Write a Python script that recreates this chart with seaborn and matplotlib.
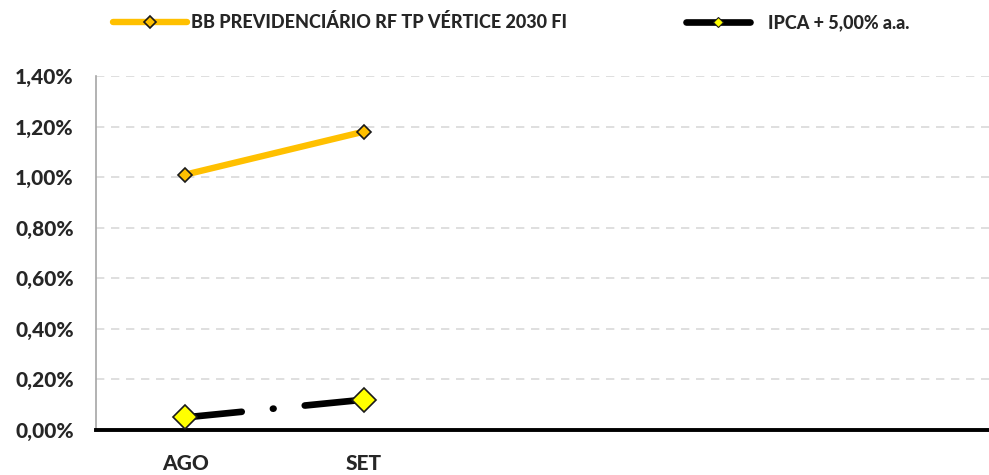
import pandas as pd
import numpy as np
import matplotlib
matplotlib.use("Agg")
import matplotlib.pyplot as plt
from matplotlib.lines import Line2D
import seaborn as sns

# dados
meses = ["AGO", "SET", "OUT", "NOV", "DEZ"]
rotulos_x = ["AGO", "SET", "", "", ""]
bb_vertice = [1.01, 1.18, np.nan, np.nan, np.nan]
ipca_meta = [0.05, 0.12, np.nan, np.nan, np.nan]
rotulos_y = ["0,00%", "0,20%", "0,40%", "0,60%", "0,80%", "1,00%", "1,20%", "1,40%"]
nome_bb = "BB PREVIDENCIÁRIO RF TP VÉRTICE 2030 FI"
nome_ipca = "IPCA + 5,00% a.a."

df = pd.DataFrame({"pos": range(len(meses)), "mes": meses,
                   "bb": bb_vertice, "ipca": ipca_meta})

sns.set_style("white")
plt.rcParams["font.family"] = ["Lato", "DejaVu Sans"]
peso = 900

fig = plt.figure(figsize=(9.89, 4.75), dpi=100)
ax = fig.add_axes([0.0971, 0.0947, 0.903, 0.7453])

sns.lineplot(data=df, x="pos", y="bb", ax=ax, color="#FFC000", linewidth=4.6,
             marker="D", markersize=7, markerfacecolor="#FFC000",
             markeredgecolor="#1a1a1a", markeredgewidth=1.2, zorder=3)
sns.lineplot(data=df, x="pos", y="ipca", ax=ax, color="black", linewidth=4.8,
             linestyle=(0, (8.5, 4.7, 0.1, 4.7)), dash_capstyle="round",
             marker="D", markersize=12, markerfacecolor="#FFFF00",
             markeredgecolor="#1a1a1a", markeredgewidth=1.2, zorder=3)

ax.set_xlim(-0.5, 4.5)
ax.set_ylim(0, 1.40)
ax.set_yticks(np.arange(0, 1.41, 0.2))
ax.set_yticklabels(rotulos_y, fontsize=15, fontweight=peso)
ax.yaxis.grid(True, color="#d9d9d9", linestyle=(0, (5, 4)), linewidth=1.2)
ax.set_axisbelow(True)

ax.set_xticks(np.arange(-0.5, 4.6, 1.0))
ax.set_xticklabels([])
ax.set_xticks(df["pos"], minor=True)
ax.set_xticklabels(rotulos_x, minor=True, fontsize=15, fontweight=peso)
ax.tick_params(axis="x", which="major", direction="out", length=6, width=2.5, color="black")
ax.tick_params(axis="x", which="minor", length=0, pad=17)
ax.tick_params(axis="y", direction="out", length=5, width=1, color="#a6a6a6", pad=11)
ax.set_xlabel("")
ax.set_ylabel("")

sns.despine(ax=ax, top=True, right=True)
ax.spines["left"].set_color("#a6a6a6")
ax.spines["left"].set_linewidth(1.2)
ax.spines["bottom"].set_color("black")
ax.spines["bottom"].set_linewidth(2.8)

# legenda no topo, com marcadores pequenos como no original
h_bb = Line2D([], [], color="#FFC000", linewidth=4.6, solid_capstyle="round",
              marker="D", markersize=6, markerfacecolor="#FFC000",
              markeredgecolor="#1a1a1a", markeredgewidth=1.2)
h_ipca = Line2D([], [], color="black", linewidth=4.8, solid_capstyle="round",
                marker="D", markersize=5, markerfacecolor="#FFFF00",
                markeredgecolor="#1a1a1a", markeredgewidth=0.8)
fig.legend([h_bb], [nome_bb], loc="center left", bbox_to_anchor=(0.114, 0.953),
           frameon=False, handlelength=4.1, handletextpad=0.25, borderaxespad=0,
           borderpad=0, prop={"size": 13, "weight": peso})
fig.legend([h_ipca], [nome_ipca], loc="center left", bbox_to_anchor=(0.694, 0.953),
           frameon=False, handlelength=3.5, handletextpad=1.0, borderaxespad=0,
           borderpad=0, prop={"size": 13, "weight": peso})

fig.savefig("out.png", dpi=100)
